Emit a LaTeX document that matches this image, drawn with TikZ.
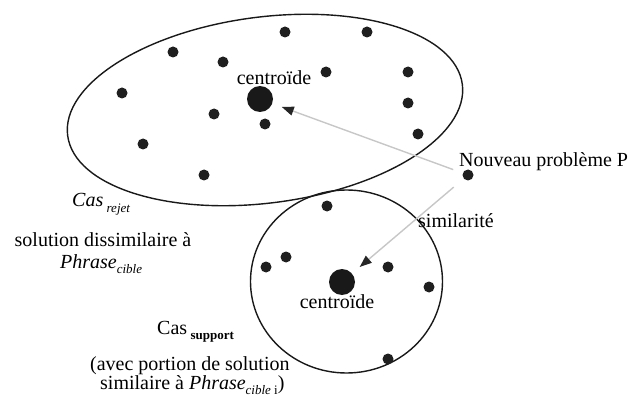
\documentclass[tikz,border=0pt]{standalone}
\usepackage{fontspec}
\setmainfont{Liberation Serif}
\usetikzlibrary{arrows.meta,shapes.geometric}
% lowered small index written after a word
\newcommand{\lowidx}[1]{\raisebox{-0.28em}{\fontsize{13}{15}\selectfont #1}}
\begin{document}
\begin{tikzpicture}[x=1pt,y=-1pt,
  dot/.style={circle,fill=black!88,inner sep=0pt,minimum size=11pt},
  bigdot/.style={circle,fill=black!90,inner sep=0pt,minimum size=26pt},
  region/.style={draw=black!90,line width=1.4pt,inner sep=0pt},
  lbl/.style={font=\fontsize{20}{24}\selectfont,inner sep=0pt},
  conn/.style={draw=black!22,line width=1.4pt,
    -{Triangle[length=12pt,width=9pt,color=black!85]}}]
\useasboundingbox (0,0) rectangle (633,396);

% the two clusters of cases
\node[region,ellipse,minimum width=398pt,minimum height=186pt,rotate=7.4]
  (rejet) at (265,110) {};
\node[region,ellipse,minimum width=192pt,minimum height=183pt]
  (support) at (346.5,281.5) {};

% cases of the rejected cluster
\node[dot] (r1) at (285,32) {};
\node[dot] (r2) at (367,32) {};
\node[dot] (r3) at (173,52) {};
\node[dot] (r4) at (223,62) {};
\node[dot] (r5) at (326,72) {};
\node[dot] (r6) at (408,72) {};
\node[dot] (r7) at (122,93) {};
\node[dot] (r8) at (408,103) {};
\node[dot] (r9) at (214,114) {};
\node[dot] (r10) at (265,124) {};
\node[dot] (r11) at (418,134) {};
\node[dot] (r12) at (143,144) {};
\node[dot] (r13) at (204,175) {};
\node[bigdot] (c1) at (260,99) {};
\node[lbl,anchor=base] (c1lbl) at (274,85) {centroïde};

% cases of the support cluster
\node[dot] (s1) at (327,206) {};
\node[dot] (s2) at (286,257) {};
\node[dot] (s3) at (266,267) {};
\node[dot] (s4) at (388,267) {};
\node[dot] (s5) at (429,287) {};
\node[dot] (s6) at (388,359) {};
\node[bigdot] (c2) at (342,282) {};
\node[lbl,anchor=base] (c2lbl) at (337,308) {centroïde};

% the new problem and its similarity to both centroids
\node[dot] (p) at (468,175) {};
\node[lbl,anchor=base west] (plbl) at (459,167) {Nouveau problème P};
\draw[conn,shorten <=10pt,shorten >=10pt] (p) -- (c1);
\draw[conn,shorten <=13pt,shorten >=10pt] (p) -- (c2);
\node[lbl,anchor=base west] (sim) at (418,227) {similarité};

% captions of the clusters
\node[lbl,anchor=base west] (cr) at (72,207) {\textit{Cas}\,\lowidx{\textit{rejet}}};
\node[lbl,anchor=base] (cr2) at (103,247) {solution dissimilaire à};
\node[lbl,anchor=base west] (cr3) at (60,268) {\textit{Phrase}\lowidx{\textit{cible}}};
\node[lbl,anchor=base west] (cs) at (157,334) {Cas\,\lowidx{\textbf{support}}};
\node[lbl,anchor=base west] (cs2) at (90,370) {(avec portion de solution};
\node[lbl,anchor=base west] (cs3) at (100,389)
  {similaire à \textit{Phrase}\lowidx{\textit{cible} i})};
\end{tikzpicture}
\end{document}
